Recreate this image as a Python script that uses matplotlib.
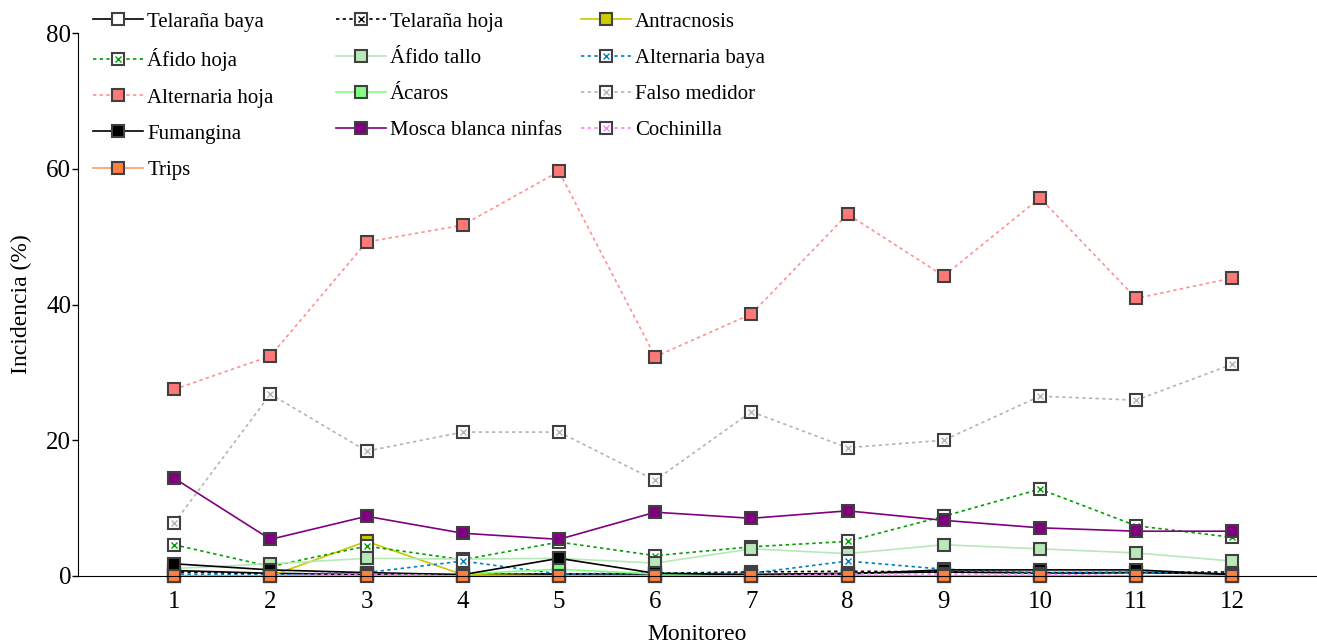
import matplotlib
matplotlib.use('Agg')
import matplotlib.pyplot as plt
from matplotlib.legend_handler import HandlerTuple

plt.rcParams['font.family'] = ['Liberation Serif', 'DejaVu Serif']

monitoreo = list(range(1, 13))

telarana_baya = [0.8, 0.4, 0.2, 0.2, 0.3, 0.3, 0.2, 0.4, 0.6, 0.4, 0.5, 0.3]
telarana_hoja = [0.6, 0.3, 0.4, 0.2, 0.3, 0.4, 0.6, 0.7, 0.6, 0.5, 0.5, 0.6]
antracnosis = [0.0, 0.0, 5.1, 0.2, 0.0, 0.0, 0.0, 0.0, 0.0, 0.0, 0.0, 0.0]
afido_hoja = [4.6, 1.4, 4.4, 2.4, 5.0, 3.0, 4.3, 5.1, 8.8, 12.8, 7.4, 5.7]
afido_tallo = [1.1, 1.8, 2.6, 2.5, 2.6, 1.9, 4.0, 3.3, 4.6, 4.0, 3.4, 2.2]
alternaria_baya = [0.3, 0.1, 0.5, 2.2, 0.3, 0.4, 0.4, 2.2, 1.0, 0.5, 0.6, 0.3]
alternaria_hoja = [27.5, 32.4, 49.2, 51.7, 59.6, 32.3, 38.6, 53.3, 44.2, 55.7, 40.9, 43.9]
acaros = [0.0, 0.0, 0.0, 0.3, 1.0, 0.3, 0.0, 0.0, 0.0, 0.0, 0.0, 0.0]
falso_medidor = [7.8, 26.8, 18.4, 21.2, 21.2, 14.1, 24.2, 18.9, 20.0, 26.5, 25.9, 31.2]
fumangina = [1.8, 0.9, 0.5, 0.2, 2.6, 0.4, 0.2, 0.3, 0.9, 0.9, 0.9, 0.2]
mosca_blanca = [14.4, 5.4, 8.8, 6.3, 5.4, 9.4, 8.5, 9.6, 8.2, 7.1, 6.6, 6.6]
cochinilla = [0.0, 0.0, 0.3, 0.0, 0.0, 0.0, 0.0, 0.3, 0.3, 0.3, 0.0, 0.0]
trips = [0.0] * 12

# (label, values, line colour, face colour, linestyle, cross colour or None)
series = [
    ('Telaraña baya', telarana_baya, 'black', 'white', '-', None),
    ('Telaraña hoja', telarana_hoja, 'black', 'white', (0, (2, 2)), 'black'),
    ('Antracnosis', antracnosis, '#c8c800', '#cccc00', '-', None),
    ('Áfido hoja', afido_hoja, '#00a000', 'white', (0, (2, 2)), '#00a000'),
    ('Áfido tallo', afido_tallo, '#b8e8b8', '#b8e8b8', '-', None),
    ('Alternaria baya', alternaria_baya, '#0080c0', 'white', (0, (2, 2)), '#0080c0'),
    ('Alternaria hoja', alternaria_hoja, '#ff9090', '#ff7878', (0, (2, 2)), None),
    ('Ácaros', acaros, '#80ff80', '#80ff80', '-', None),
    ('Falso medidor', falso_medidor, '#b4b4b4', 'white', (0, (2, 2)), '#b4b4b4'),
    ('Fumangina', fumangina, 'black', 'black', '-', None),
    ('Mosca blanca ninfas', mosca_blanca, '#800080', '#800080', '-', None),
    ('Cochinilla', cochinilla, '#ff80ff', 'white', (0, (2, 2)), '#ff80ff'),
    ('Trips', trips, '#ff9966', '#ff8040', '-', None),
]

fig = plt.figure(figsize=(13.17, 6.43), dpi=100)
ax = fig.add_axes([78 / 1317, 1 - 576 / 643, 1 - 78 / 1317, 543 / 643])

handles = {}
for label, vals, lc, fc, ls, xc in series:
    l1, = ax.plot(monitoreo, vals, color=lc, linestyle=ls, linewidth=1.2,
                  marker='s', markersize=9, markerfacecolor=fc,
                  markeredgecolor='#404040', markeredgewidth=1.5,
                  clip_on=False)
    if xc is not None:
        l2, = ax.plot(monitoreo, vals, linestyle='none', marker='x',
                      markersize=5, markeredgecolor=xc, markeredgewidth=1.0,
                      clip_on=False)
        handles[label] = (l1, l2)
    else:
        handles[label] = l1

ax.set_xlim(0, 12.88)
ax.set_ylim(0, 80)
ax.set_xticks(monitoreo)
ax.set_yticks([0, 20, 40, 60, 80])
ax.tick_params(labelsize=18, length=4, width=1, direction='out', pad=1)
ax.tick_params(axis='x', length=0, pad=11)
for s in ['top', 'right']:
    ax.spines[s].set_visible(False)
ax.set_xlabel('Monitoreo', fontsize=17, labelpad=8)
ax.set_ylabel('Incidencia (%)', fontsize=17, labelpad=10)

columns = [
    (93, ['Telaraña baya', 'Áfido hoja', 'Alternaria hoja', 'Fumangina', 'Trips']),
    (336, ['Telaraña hoja', 'Áfido tallo', 'Ácaros', 'Mosca blanca ninfas']),
    (581, ['Antracnosis', 'Alternaria baya', 'Falso medidor', 'Cochinilla']),
]
for xpx, labels in columns:
    leg = fig.legend([handles[k] for k in labels], labels, loc='upper left',
                     bbox_to_anchor=(xpx / 1317, 1 - 12 / 643),
                     frameon=False, fontsize=15, borderpad=0,
                     borderaxespad=0, handlelength=2.4, handletextpad=0.2,
                     labelspacing=0.8,
                     handler_map={tuple: HandlerTuple(ndivide=1)})

fig.savefig('out.png', dpi=100)
